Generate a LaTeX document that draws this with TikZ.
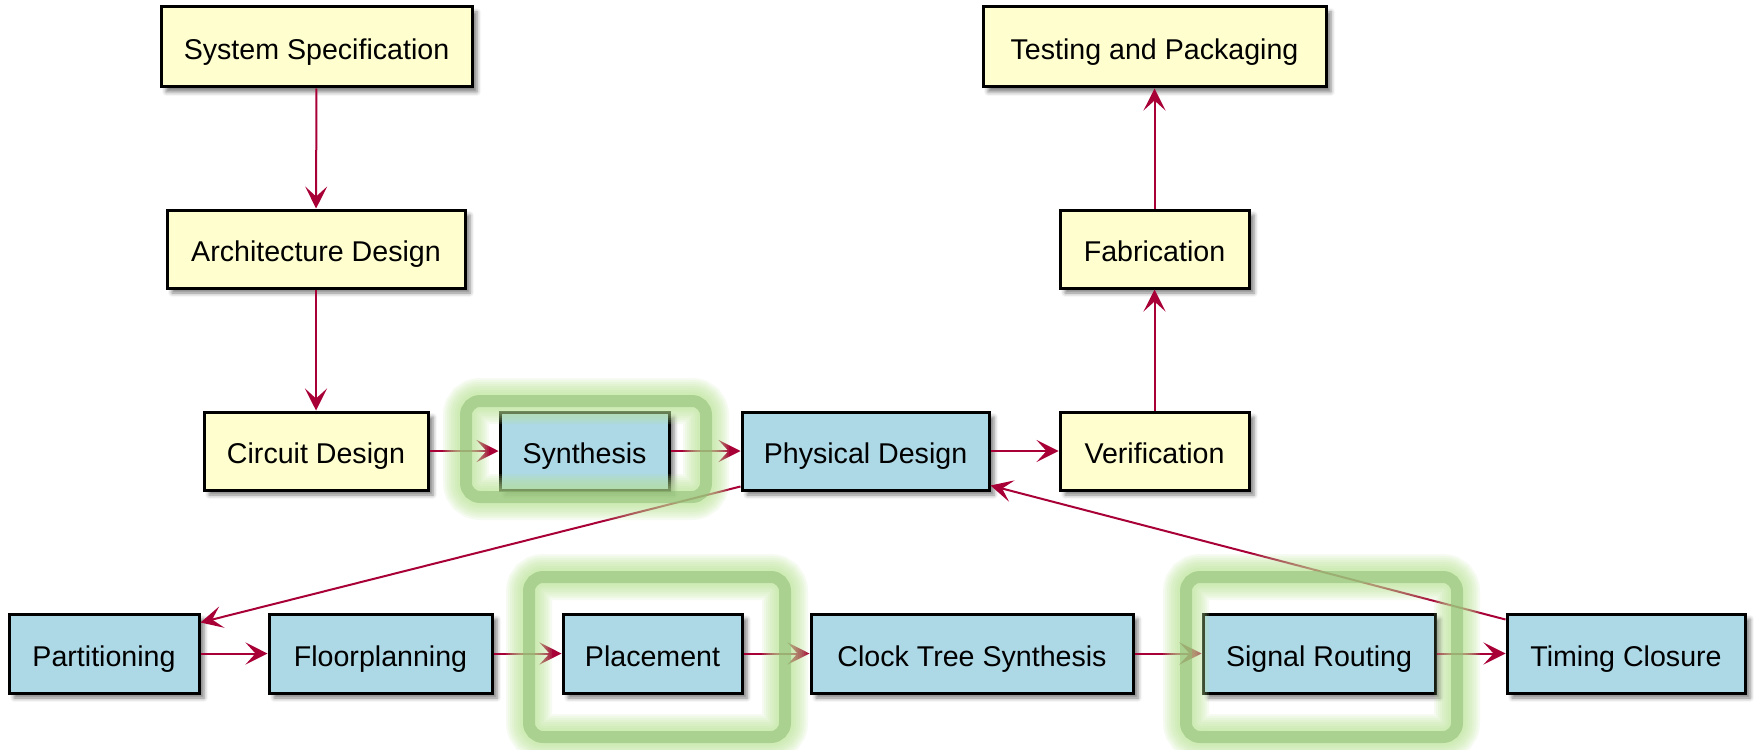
\documentclass[tikz,border=0pt]{standalone}
\usepackage{fontspec}
\setmainfont{Liberation Sans}
\usetikzlibrary{arrows.meta,shadows.blur}

\definecolor{stepyellow}{HTML}{FEFECE}
\definecolor{stepblue}{HTML}{ADD8E6}
\definecolor{flowred}{HTML}{A80036}
\definecolor{hlstroke}{RGB}{145,192,117}
\definecolor{hlglow}{HTML}{B8E293}

% glowing rounded frame around a group of stages
\newcommand\glowframe[4]{%
  \foreach \w in {23,21,19,17,15,13,11,9} {
    \draw[glowlayer, line width=\w pt] (#1,#2) rectangle (#3,#4);
  }
  \draw[hlring] (#1,#2) rectangle (#3,#4);
}

\begin{document}
\begin{tikzpicture}[x=0.5pt,y=-0.5pt,
  stage/.style={draw=black, line width=1.5pt, minimum height=39pt, inner sep=0pt,
    text height=14.6pt, text depth=2pt,
    font=\fontsize{14.3}{17}\selectfont,
    blur shadow={shadow xshift=2.5pt, shadow yshift=-2.5pt,
      shadow blur radius=2pt, shadow opacity=50}},
  early/.style={stage, fill=stepyellow},
  phys/.style={stage, fill=stepblue},
  flow/.style={draw=flowred, line width=1pt,
    -{Stealth[length=11pt,width=11pt,inset=5pt]}},
  glowlayer/.style={draw=hlglow, draw opacity=0.13, rounded corners=7pt},
  hlring/.style={draw=hlstroke, draw opacity=0.6, line width=6pt, rounded corners=7pt}
]
\useasboundingbox (0,0) rectangle (1754,749);

% front-end flow
\node[early, minimum width=155.5pt, minimum height=40pt] (sys) at (316.5,47) {System Specification};
\node[early, minimum width=149pt]   (arch)  at (316,249)   {Architecture Design};
\node[early, minimum width=112pt]   (circ)  at (316,451)   {Circuit Design};
\node[phys,  minimum width=84.5pt]  (synth) at (584.5,451) {Synthesis};
\node[phys,  minimum width=123.5pt] (pd)    at (865.5,451) {Physical Design};
\node[early, minimum width=94.5pt]  (verif) at (1154.5,451) {Verification};
\node[early, minimum width=94.5pt]  (fab)   at (1154.5,249) {Fabrication};
\node[early, minimum width=171.5pt, minimum height=40pt] (test) at (1154.5,47) {Testing and Packaging};

% physical design steps
\node[phys, minimum width=95pt,    minimum height=39.5pt] (part)  at (104,653.5)   {Partitioning};
\node[phys, minimum width=111.5pt, minimum height=39.5pt] (floor) at (380.5,653.5) {Floorplanning};
\node[phys, minimum width=89.5pt,  minimum height=39.5pt] (place) at (652.5,653.5) {Placement};
\node[phys, minimum width=161pt,   minimum height=39.5pt] (cts)   at (972,653.5)   {Clock Tree Synthesis};
\node[phys, minimum width=116pt,   minimum height=39.5pt] (route) at (1319,653.5)  {Signal Routing};
\node[phys, minimum width=119pt,   minimum height=39.5pt] (tc)    at (1626,653.5)  {Timing Closure};

% connectors
\draw[flow] (sys) -- (arch);
\draw[flow] (arch) -- (circ);
\draw[flow] (circ) -- (synth);
\draw[flow] (synth) -- (pd);
\draw[flow] (pd) -- (verif);
\draw[flow] (verif) -- (fab);
\draw[flow] (fab) -- (test);
\draw[flow] ([yshift=2.5pt]pd.south west) -- ([yshift=-5pt]part.north east);
\draw[flow] (part) -- (floor);
\draw[flow] (floor) -- (place);
\draw[flow] (place) -- (cts);
\draw[flow] (cts) -- (route);
\draw[flow] (route) -- (tc);
\draw[flow] ([yshift=-3.5pt]tc.north west) -- ([yshift=3pt]pd.south east);

% highlighted stages
\glowframe{466}{401}{706}{497}
\glowframe{529}{577}{785}{737}
\glowframe{1186}{577}{1457}{737}
\end{tikzpicture}
\end{document}
